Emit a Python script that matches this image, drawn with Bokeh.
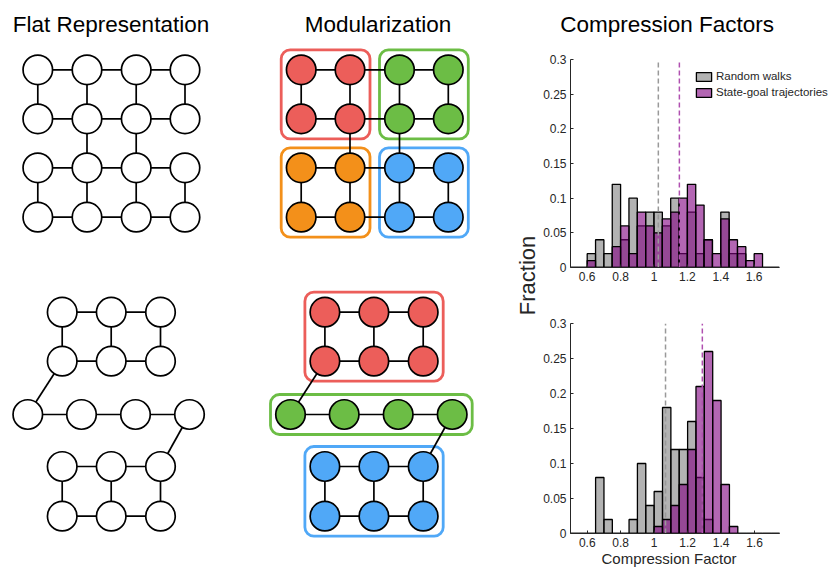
import math
from bokeh.plotting import figure
from bokeh.layouts import row, column
from bokeh.models import (Range1d, FixedTicker, CustomJSTickFormatter, Legend, LegendItem, Title)
from bokeh.core.properties import value
from bokeh.embed import file_html
from bokeh.resources import INLINE

# ---------------- histogram data ----------------
bin_edges = [0.50, 0.55, 0.60, 0.65, 0.70, 0.75, 0.80, 0.85, 0.90, 0.95, 1.00, 1.05, 1.10,
             1.15, 1.20, 1.25, 1.30, 1.35, 1.40, 1.45, 1.50, 1.55, 1.60, 1.65, 1.70, 1.75]
top_random = [0, 0, 0.02, 0.04, 0.02, 0.12, 0.04, 0.10, 0.06, 0.08, 0.08, 0.06, 0.10,
              0.02, 0.08, 0.02, 0.04, 0, 0.08, 0.02, 0.02, 0, 0, 0, 0]
top_goal = [0, 0, 0.01, 0, 0, 0.03, 0.06, 0.02, 0.08, 0.06, 0.05, 0.07, 0.08,
            0.10, 0.12, 0.09, 0.04, 0.02, 0.07, 0.04, 0.03, 0.01, 0.02, 0, 0]
bottom_random = [0, 0, 0, 0.08, 0.02, 0, 0, 0.02, 0.10, 0.04, 0.06, 0.18, 0.12,
                 0.12, 0.16, 0.08, 0.02, 0, 0, 0, 0, 0, 0, 0, 0]
bottom_goal = [0, 0, 0, 0, 0, 0, 0, 0, 0, 0, 0.01, 0.02, 0.04,
               0.07, 0.12, 0.21, 0.26, 0.19, 0.07, 0.01, 0, 0, 0, 0, 0]
top_means = [1.026, 1.152]        # random walks, state-goal
bottom_means = [1.068, 1.288]
x_ticks = [0.6, 0.8, 1.0, 1.2, 1.4, 1.6]
y_ticks = [0, 0.05, 0.1, 0.15, 0.2, 0.25, 0.3]
series_labels = ["Random walks", "State-goal trajectories"]

# ---------------- network diagrams (node centres, image pixels) ----------------
grid_cols_flat = [37.3, 86.5, 135.7, 184.5]
grid_cols_mod = [300.7, 349.5, 399.0, 447.8]
grid_rows = [69.3, 118.3, 167.3, 216.7]
grid_modules = [["red", "red", "green", "green"],
                ["red", "red", "green", "green"],
                ["orange", "orange", "blue", "blue"],
                ["orange", "orange", "blue", "blue"]]
grid_edges = [((0, 0), (1, 0)), ((1, 0), (2, 0)), ((2, 0), (3, 0)),
              ((0, 1), (1, 1)), ((1, 1), (2, 1)), ((2, 1), (3, 1)),
              ((0, 2), (1, 2)), ((1, 2), (2, 2)), ((2, 2), (3, 2)),
              ((0, 3), (1, 3)), ((1, 3), (2, 3)), ((2, 3), (3, 3)),
              ((0, 0), (0, 1)), ((1, 0), (1, 1)), ((2, 0), (2, 1)), ((3, 0), (3, 1)),
              ((1, 1), (1, 2)), ((2, 1), (2, 2)),
              ((0, 2), (0, 3)), ((1, 2), (1, 3)), ((2, 2), (2, 3)), ((3, 2), (3, 3))]

chain_x_flat = [61.7, 110.7, 160.0, 61.7, 110.7, 160.0, 27.3, 81.0, 135.0, 189.0,
                61.7, 110.7, 160.0, 61.7, 110.7, 160.0]
chain_x_mod = [324.4, 373.4, 422.7, 324.4, 373.4, 422.7, 290.0, 343.7, 397.7, 451.7,
               324.4, 373.4, 422.7, 324.4, 373.4, 422.7]
chain_y = [311.7, 311.7, 311.7, 360.7, 360.7, 360.7, 414.0, 414.0, 414.0, 414.0,
           466.0, 466.0, 466.0, 515.7, 515.7, 515.7]
chain_modules = ["red"] * 6 + ["green"] * 4 + ["blue"] * 6
chain_edges = [(0, 1), (1, 2), (3, 4), (4, 5), (0, 3), (1, 4), (2, 5), (3, 6),
               (6, 7), (7, 8), (8, 9), (9, 12), (10, 11), (11, 12), (13, 14), (14, 15),
               (10, 13), (11, 14), (12, 15)]

module_colors = {"red": "#EC5E5A", "green": "#6CBD45", "orange": "#F3901A", "blue": "#50A8F7"}
panel_titles = ["Flat Representation", "Modularization", "Compression Factors"]
title_centres = [110.5, 377.5, 666.7]
x_label = "Compression Factor"
y_label = "Fraction"

FONT = "Liberation Sans"
TEXT_COL = "#262626"
NODE_SIZE = 29.5
LINE_W = 1.7
BOX_PAD = 20.0
W_TOTAL, W_LEFT, H_TOTAL, H_TITLE = 835, 540, 569, 44
W_RIGHT = W_TOTAL - W_LEFT

# ---------------- title strip ----------------
pt = figure(width=W_TOTAL, height=H_TITLE, x_range=Range1d(0, W_TOTAL), y_range=Range1d(H_TITLE, 0),
            output_backend="svg", toolbar_location=None, min_border=0,
            x_axis_location=None, y_axis_location=None)
pt.grid.visible = False
pt.outline_line_color = None
pt.text(x=title_centres, y=[24, 24, 24], text=panel_titles, text_align="center",
        text_baseline="alphabetic", text_font=value(FONT), text_font_size="22.5px",
        text_color="black")

# ---------------- left figure: diagrams ----------------
p0 = figure(width=W_LEFT, height=H_TOTAL - H_TITLE, x_range=Range1d(0, W_LEFT),
            y_range=Range1d(H_TOTAL, H_TITLE),
            output_backend="svg", toolbar_location=None, min_border=0,
            x_axis_location=None, y_axis_location=None)
p0.grid.visible = False
p0.outline_line_color = None


def draw_graph(xs, ys, edges, fills, boxes):
    for (mod, bx0, bx1, by0, by1) in boxes:
        p0.quad(left=[bx0], right=[bx1], top=[by0], bottom=[by1], fill_color=None,
                line_color=module_colors[mod], line_width=2.8, border_radius=9)
    p0.segment(x0=[xs[a] for a, b in edges], y0=[ys[a] for a, b in edges],
               x1=[xs[b] for a, b in edges], y1=[ys[b] for a, b in edges],
               line_color="black", line_width=LINE_W)
    p0.scatter(x=xs, y=ys, size=NODE_SIZE, fill_color=fills, line_color="black",
               line_width=LINE_W)


def module_boxes(xs, ys, mods):
    out = []
    for m in dict.fromkeys(mods):
        mx = [x for x, mm in zip(xs, mods) if mm == m]
        my = [y for y, mm in zip(ys, mods) if mm == m]
        out.append((m, min(mx) - BOX_PAD, max(mx) + BOX_PAD, min(my) - BOX_PAD, max(my) + BOX_PAD))
    return out


# top grids
nodes = [(c, r) for r in range(4) for c in range(4)]
idx = {n: i for i, n in enumerate(nodes)}
g_edges = [(idx[a], idx[b]) for a, b in grid_edges]
g_y = [grid_rows[r] for c, r in nodes]
g_mods = [grid_modules[r][c] for c, r in nodes]
draw_graph([grid_cols_flat[c] for c, r in nodes], g_y, g_edges, ["white"] * len(nodes), [])
gx_mod = [grid_cols_mod[c] for c, r in nodes]
draw_graph(gx_mod, g_y, g_edges, [module_colors[m] for m in g_mods],
           module_boxes(gx_mod, g_y, g_mods))

# bottom chains
draw_graph(chain_x_flat, chain_y, chain_edges, ["white"] * len(chain_y), [])
draw_graph(chain_x_mod, chain_y, chain_edges, [module_colors[m] for m in chain_modules],
           module_boxes(chain_x_mod, chain_y, chain_modules))

p0.text(x=[527], y=[275], text=[y_label], angle=math.pi / 2, text_align="center",
        text_baseline="middle", text_font=value(FONT), text_font_size="22px",
        text_color=TEXT_COL)

# ---------------- histograms ----------------
fmt = CustomJSTickFormatter(code="return String(Math.round(tick*100)/100)")


def hist(randoms, goals, means, height, x_end, border_left, border_top, border_bottom):
    h = figure(width=W_RIGHT, height=height, x_range=Range1d(0.5, x_end), y_range=Range1d(0, 0.3),
               output_backend="svg", toolbar_location=None,
               min_border_left=border_left, min_border_right=0,
               min_border_top=border_top, min_border_bottom=border_bottom)
    h.grid.visible = False
    h.outline_line_color = None
    r_g = h.quad(left=bin_edges[:-1], right=bin_edges[1:], bottom=0, top=randoms,
                 fill_color="#808080", fill_alpha=0.6, line_color="black", line_width=1.3)
    r_p = h.quad(left=bin_edges[:-1], right=bin_edges[1:], bottom=0, top=goals,
                 fill_color="#800080", fill_alpha=0.6, line_color="black", line_width=1.3)
    h.segment(x0=[means[0]], y0=[0], x1=[means[0]], y1=[0.3], line_color="#999999",
              line_width=1.5, line_dash="5 3")
    h.segment(x0=[means[1]], y0=[0], x1=[means[1]], y1=[0.3], line_color="#B050B0",
              line_width=1.5, line_dash="5 3")
    h.xaxis.ticker = FixedTicker(ticks=x_ticks)
    h.yaxis.ticker = FixedTicker(ticks=y_ticks)
    h.xaxis.bounds = (bin_edges[0], bin_edges[-1])
    for ax in (h.xaxis[0], h.yaxis[0]):
        ax.formatter = fmt
        ax.major_tick_in = 3
        ax.major_tick_out = 0
        ax.minor_tick_line_color = None
        ax.axis_line_color = TEXT_COL
        ax.major_tick_line_color = TEXT_COL
        ax.major_label_text_font = FONT
        ax.major_label_text_font_size = "12px"
        ax.major_label_text_color = TEXT_COL
        ax.major_label_standoff = 4
    return h, r_g, r_p


H1 = 295 - H_TITLE
h1, g1, p1 = hist(top_random, top_goal, top_means, H1, 2.087, 30, 59 - H_TITLE, 295 - 267)

legend = Legend(items=[LegendItem(label=series_labels[0], renderers=[g1]),
                       LegendItem(label=series_labels[1], renderers=[p1])],
                location=(124, 167), border_line_color=None, background_fill_alpha=0,
                padding=0, margin=0, spacing=0, glyph_width=19, glyph_height=11,
                label_standoff=3, label_height=16, label_text_font=FONT,
                label_text_font_size="11.5px", label_text_color=TEXT_COL)
h1.add_layout(legend)

h2, g2, p2 = hist(bottom_random, bottom_goal, bottom_means, H_TOTAL - 295, 2.084, 28, 323 - 295, 36)
xl = Title(text=x_label, align="left", offset=31, vertical_align="top", standoff=0,
           text_font=FONT, text_font_size="15px", text_font_style="normal", text_color=TEXT_COL)
h2.add_layout(xl, "below")

layout = column(pt, row(p0, column(h1, h2, spacing=0), spacing=0), spacing=0)
open("out.html", "w").write(file_html(layout, INLINE))
